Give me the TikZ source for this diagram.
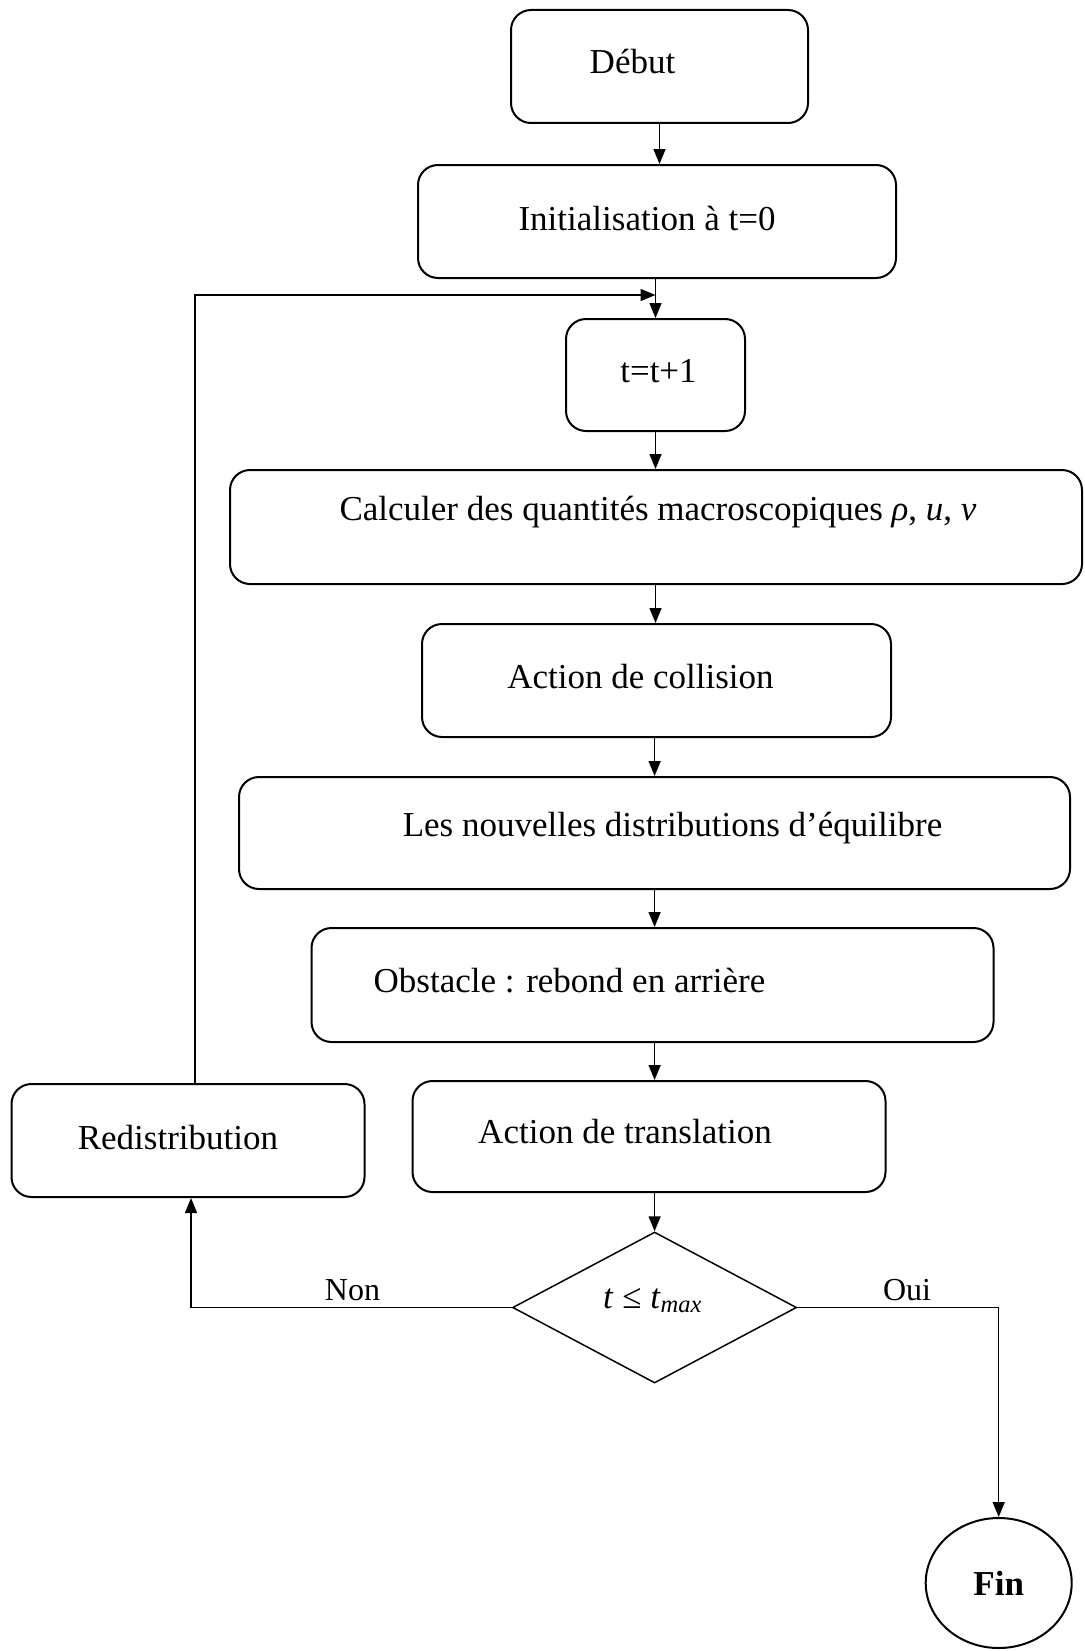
\documentclass[tikz,border=0pt]{standalone}
\usepackage{fontspec}
\setmainfont{Liberation Serif}
\usetikzlibrary{shapes.geometric,arrows.meta,calc}
\begin{document}
\begin{tikzpicture}[x=1pt,y=-1pt,
  box/.style={draw, line width=2pt, rounded corners=20pt, inner sep=0pt},
  conn/.style={line width=1.5pt, -{Triangle[length=15pt,width=12pt]}},
  txt/.style={font=\fontsize{35}{42}\selectfont, inner sep=0pt},
  lbl/.style={font=\fontsize{32}{38}\selectfont, inner sep=0pt}]
\useasboundingbox (0,0) rectangle (1084,1651);
% boxes
\node[box, minimum width=297pt, minimum height=113pt,
  label={[txt,xshift=-27pt,yshift=5pt]center:{Début}}] (debut) at (659.5,66.5) {};
\node[box, minimum width=478pt, minimum height=113pt,
  label={[txt,xshift=-10pt,yshift=3pt]center:{Initialisation à t=0}}] (init) at (657,221.5) {};
\node[box, minimum width=179pt, minimum height=112pt,
  label={[txt,xshift=3pt,yshift=4pt]center:{t=t+1}}] (tstep) at (655.5,375) {};
\node[box, minimum width=852pt, minimum height=114pt,
  label={[txt,xshift=2pt,yshift=15pt]center:{Calculer des quantités macroscopiques \textit{ρ}, \textit{u}, \textit{v}}}] (calc) at (656,527) {};
\node[box, minimum width=469pt, minimum height=113pt,
  label={[txt,xshift=-16pt,yshift=4pt]center:{Action de collision}}] (coll) at (656.5,680.5) {};
\node[box, minimum width=831pt, minimum height=112pt,
  label={[txt,xshift=18pt,yshift=5pt]center:{Les nouvelles distributions d’équilibre}}] (nouv) at (654.5,833) {};
\node[box, minimum width=682pt, minimum height=114pt,
  label={[txt,xshift=-83pt,yshift=4pt]center:{Obstacle : rebond en arrière}}] (obst) at (652.5,985) {};
\node[box, minimum width=473pt, minimum height=111pt,
  label={[txt,xshift=-24pt,yshift=5pt]center:{Action de translation}}] (trans) at (649,1136.5) {};
\node[box, minimum width=353pt, minimum height=113pt,
  label={[txt,xshift=-10pt,yshift=3pt]center:{Redistribution}}] (redis) at (188,1140.5) {};
% decision
\node[draw, diamond, line width=1.5pt, minimum width=284pt, minimum height=151pt, inner sep=0pt,
  label={[txt,xshift=-2pt,yshift=7pt]center:{\textit{t} ≤ \textit{t}\textsubscript{\textit{max}}}}] (dec) at (654.6,1307.5) {};
% end
\node[draw, ellipse, line width=2pt, minimum width=146pt, minimum height=130pt,
  font=\bfseries\fontsize{35}{42}\selectfont] (fin) at (998.7,1583) {Fin};
% labels
\node[lbl] (non) at (352.5,1290) {Non};
\node[lbl] (oui) at (907,1290) {Oui};
% helper coordinates
\coordinate (fbtop) at (195,295);
\coordinate (nonx) at (191,1307.5);
% connectors
\draw[conn] (debut.south) -- (debut.south |- init.north);
\draw[conn] (tstep.north |- init.south) -- (tstep.north);
\draw[conn] ($(redis.north)+(7,0)$) -- (fbtop) -- (fbtop -| tstep.north);
\draw[conn] (tstep.south) -- (tstep.south |- calc.north);
\draw[conn] (tstep.south |- calc.south) -- (tstep.south |- coll.north);
\draw[conn] (dec.north |- coll.south) -- (dec.north |- nouv.north);
\draw[conn] (dec.north |- nouv.south) -- (dec.north |- obst.north);
\draw[conn] (dec.north |- obst.south) -- (dec.north |- trans.north);
\draw[conn] (dec.north |- trans.south) -- (dec.north);
\draw[conn] (dec.west) -- (dec.west -| nonx) -- (redis.south -| nonx);
\draw[conn] (dec.east) -- (dec.east -| fin.north) -- (fin.north);
\end{tikzpicture}
\end{document}
